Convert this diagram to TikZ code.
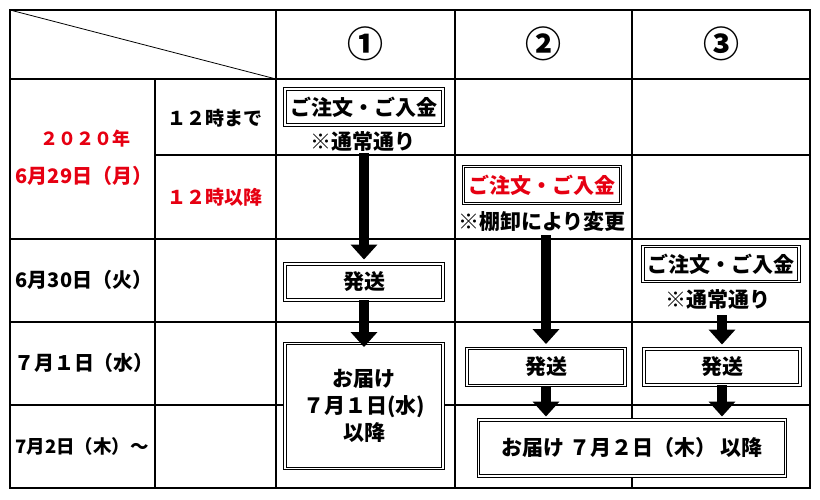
\documentclass[tikz,border=0pt]{standalone}
\usepackage{fontspec}
\setmainfont{Noto Sans CJK JP}
\usetikzlibrary{arrows.meta}
\definecolor{alertred}{RGB}{230,0,18}

\begin{document}
\begin{tikzpicture}[x=1pt, y=-1pt,
	txt/.style={font=\bfseries\fontsize{21pt}{27pt}\selectfont, inner sep=1pt},
	lbl/.style={font=\bfseries\fontsize{20pt}{24pt}\selectfont, inner sep=1pt},
	box/.style={txt, draw, double, double distance=1.8pt, line width=0.9pt, fill=white, inner sep=0pt, align=center},
	arr/.style={line width=10pt, -{Triangle[width=26pt, length=15pt]}},
	grid/.style={line width=1.1pt}]
	\useasboundingbox (0,0) rectangle (820,500);
	
	\draw[grid] (10,10) rectangle (810,488);
	\foreach \x in {276,455,632} \draw[grid] (\x,10) -- (\x,488);
	\draw[grid] (155,79) -- (155,488);
	\draw[grid] (10,79) -- (810,79);
	\draw[grid] (155,155) -- (810,155);
	\foreach \y in {239,322,405} \draw[grid] (10,\y) -- (810,\y);
	\draw[line width=0.8pt] (10,10) -- (276,79);
	
	\node[font=\bfseries\fontsize{36pt}{36pt}\selectfont] (h1) at (365,44) {①};
	\node[font=\bfseries\fontsize{36pt}{36pt}\selectfont] (h2) at (543,44) {②};
	\node[font=\bfseries\fontsize{36pt}{36pt}\selectfont] (h3) at (721,44) {③};
	
	\node[lbl, alertred, font=\bfseries\fontsize{18pt}{24pt}\selectfont] (y29) at (85,139) {２０２０年};
	\node[lbl, alertred] (d29) at (84,176) {6月29日（月）};
	\node[lbl, font=\bfseries\fontsize{19pt}{24pt}\selectfont] (am) at (215,118) {１２時まで};
	\node[lbl, alertred, font=\bfseries\fontsize{19pt}{24pt}\selectfont] (pm) at (215,197) {１２時以降};
	\node[lbl] (d30) at (84,280) {6月30日（火）};
	\node[lbl] (d01) at (84,363) {７月１日（水）};
	\node[lbl, font=\bfseries\fontsize{18.5pt}{24pt}\selectfont] (d02) at (82,446) {7月2日（木）～};
	
	\node[box, minimum width=158pt, minimum height=36pt] (o1) at (364,107) {ご注文・ご入金};
	\node[txt] (n1) at (363,142) {※通常通り};
	\node[box, minimum width=158pt, minimum height=36pt] (s1) at (364,282) {発送};
	\node[box, minimum width=158pt, minimum height=125pt] (d1) at (364,406) {お届け\\７月１日(水)\\以降};
	
	\node[box, text=alertred, minimum width=157pt, minimum height=37pt] (o2) at (542,185) {ご注文・ご入金};
	\node[txt] (n2) at (542,222) {※棚卸により変更};
	\node[box, minimum width=158pt, minimum height=37pt] (s2) at (546,367) {発送};
	
	\node[box, minimum width=156pt, minimum height=35pt] (o3) at (721,264) {ご注文・ご入金};
	\node[txt] (n3) at (718,300) {※通常通り};
	\node[box, minimum width=156pt, minimum height=36pt] (s3) at (722,367) {発送};
	
	\node[box, minimum width=307pt, minimum height=56pt] (d2) at (632,448) {お届け ７月２日（木） 以降};
	
	\draw[arr, shorten >=4pt] (n1.south -| s1.north) -- (s1.north);
	\draw[arr, shorten >=-4pt] (s1.south) -- (d1.north);
	\draw[arr, shorten <=2pt, shorten >=4pt] (n2.south -| s2.north) -- (s2.north);
	\draw[arr, shorten >=3pt] (s2.south) -- (s2.south |- d2.north);
	\draw[arr, shorten <=4pt, shorten >=4pt] (n3.south -| s3.north) -- (s3.north);
	\draw[arr, shorten >=3pt] (s3.south) -- (s3.south |- d2.north);
\end{tikzpicture}
\end{document}
